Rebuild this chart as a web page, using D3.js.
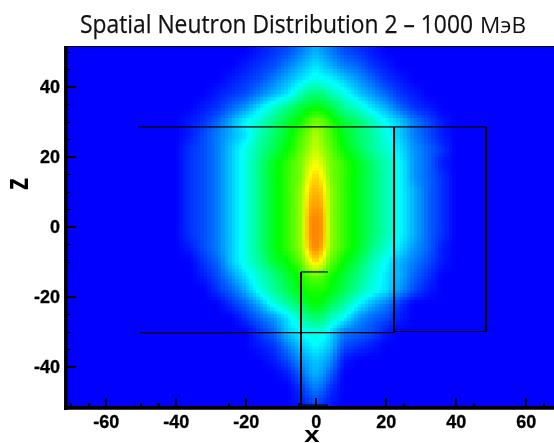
<!DOCTYPE html>
<html>
<head>
<meta charset="utf-8">
<script src="https://cdn.jsdelivr.net/npm/d3@7"></script>
<style>
    html, body { margin: 0; padding: 0; background: white; overflow: hidden; }
    #chart { position: relative; width: 554px; height: 443px; }
    #chart canvas, #chart svg { position: absolute; left: 0; top: 0; }
    .axis text { font-family: "Liberation Sans", Arial, sans-serif; font-weight: bold; font-size: 18px; fill: black; stroke: black; stroke-width: 0.3px; }
    .axis line { shape-rendering: crispEdges; }
</style>
</head>
<body>
<div id="chart"></div>
<script>
// grid, in tenths of a colour step (10 cyan, 20 green, 30 yellow)
const xCols = [-40, -36, -32, -28, -24, -20, -16, -12, -8, -4, -2, 0, 2, 4, 8, 12, 16, 20, 24, 28, 32, 36, 40];
const zRows = [50, 46, 42, 38, 34, 30, 26, 22, 18, 14, 10, 6, 2, -2, -6, -10, -14, -18, -22, -26, -30, -34, -38, -42, -46, -50];
const flux = [
    [0, 0, 0, 0, 0, 0, 1, 2, 3, 5, 6, 7, 6, 5, 3, 2, 1, 0, 0, 0, 0, 0, 0],
    [0, 0, 0, 0, 0, 1, 2, 3, 5, 7, 8, 9, 8, 7, 5, 4, 2, 1, 0, 0, 0, 0, 0],
    [0, 0, 0, 0, 1, 2, 3, 5, 7, 9, 10, 11, 10, 10, 8, 6, 4, 2, 1, 0, 0, 0, 0],
    [0, 0, 0, 1, 2, 3, 5, 7, 9, 13, 15, 15, 15, 13, 11, 8, 6, 4, 2, 1, 0, 0, 0],
    [0, 0, 1, 2, 4, 6, 9, 12, 15, 18, 19, 20, 19, 18, 14, 12, 9, 7, 4, 2, 1, 0, 0],
    [0, 1, 2, 4, 7, 10, 12, 15, 18, 21, 23, 25, 24, 22, 18, 16, 13, 10, 8, 5, 3, 1, 0],
    [0, 1, 3, 5, 7, 9, 13, 16, 19, 23, 25, 27, 25, 23, 19, 16, 14, 11, 8, 5, 3, 1, 0],
    [0, 2, 3, 5, 8, 11, 14, 17, 20, 24, 26, 28, 26, 24, 20, 17, 14, 12, 9, 6, 4, 2, 0],
    [0, 2, 3, 5, 8, 11, 15, 19, 22, 25, 28, 30, 28, 25, 22, 19, 16, 13, 10, 6, 4, 1, 0],
    [0, 2, 3, 5, 8, 11, 15, 19, 22, 25, 30, 32, 30, 25, 22, 19, 16, 13, 10, 6, 4, 2, 0],
    [0, 2, 3, 5, 8, 11, 15, 19, 22, 26, 32, 33, 32, 26, 22, 19, 16, 13, 10, 7, 4, 2, 0],
    [0, 2, 3, 5, 8, 11, 15, 19, 22, 26, 33, 34, 33, 26, 22, 19, 16, 13, 10, 7, 4, 2, 0],
    [0, 2, 3, 5, 8, 11, 15, 19, 22, 26, 34, 35, 34, 26, 22, 19, 16, 13, 10, 7, 4, 2, 0],
    [0, 2, 3, 5, 8, 11, 15, 19, 22, 26, 34, 35, 34, 26, 22, 19, 16, 13, 10, 7, 4, 2, 0],
    [0, 1, 3, 5, 8, 11, 15, 19, 22, 26, 33, 35, 33, 26, 22, 19, 15, 12, 9, 6, 4, 1, 0],
    [0, 0, 2, 4, 8, 11, 14, 18, 20, 24, 29, 32, 29, 24, 20, 17, 13, 10, 7, 5, 3, 1, 0],
    [0, 0, 1, 3, 6, 9, 12, 15, 18, 21, 23, 24, 23, 21, 18, 15, 12, 9, 7, 4, 2, 0, 0],
    [0, 0, 0, 2, 4, 7, 11, 14, 17, 20, 21, 21, 21, 20, 17, 14, 11, 9, 6, 3, 1, 0, 0],
    [0, 0, 0, 0, 2, 4, 7, 11, 14, 17, 19, 20, 19, 17, 14, 10, 7, 5, 2, 0, 0, 0, 0],
    [0, 0, 0, 0, 0, 2, 4, 6, 9, 13, 15, 16, 15, 13, 10, 6, 4, 3, 1, 0, 0, 0, 0],
    [0, 0, 0, 0, 0, 0, 2, 4, 8, 10, 11, 11, 11, 9, 5, 4, 3, 1, 0, 0, 0, 0, 0],
    [0, 0, 0, 0, 0, 0, 1, 2, 5, 8, 9, 10, 9, 8, 3, 2, 1, 0, 0, 0, 0, 0, 0],
    [0, 0, 0, 0, 0, 0, 0, 1, 3, 6, 7, 8, 7, 6, 1, 0, 0, 0, 0, 0, 0, 0, 0],
    [0, 0, 0, 0, 0, 0, 0, 0, 1, 4, 6, 7, 6, 4, 0, 0, 0, 0, 0, 0, 0, 0, 0],
    [0, 0, 0, 0, 0, 0, 0, 0, 0, 2, 4, 5, 4, 2, 0, 0, 0, 0, 0, 0, 0, 0, 0],
    [0, 0, 0, 0, 0, 0, 0, 0, 0, 1, 2, 3, 2, 1, 0, 0, 0, 0, 0, 0, 0, 0, 0]
];
const colourStops = [0, 10, 20, 30, 40];
const colourNames = ["#0000ff", "#00ffff", "#00ff00", "#ffff00", "#ff0000"];

const xMajor = [-60, -40, -20, 0, 20, 40, 60];
const xMinor = [-70, -65, -50, -45, -25, -5, 25, 45, 65];
const zMajor = [-40, -20, 0, 20, 40];
const zMinor = [50, 45, 35, 30, 25, 15, 10, 5, -5, -10, -25, -30, -35];

// the black outlines drawn over the field
const outerBox = [[-50.8, 28.5], [48.7, 28.5], [48.7, -29.9], [22.4, -29.9]];
const middleBox = [[22.4, 28.5], [22.4, -30.2], [-50.3, -30.2]];
const innerBox = [[3.5, -12.9], [-4.2, -12.9], [-4.2, -50.9], [3.5, -50.9]];

const width = 554, height = 443;
const plotLeft = 66, plotRight = 554, plotTop = 46, plotBottom = 407.5;

const x = d3.scaleLinear().domain([-71.34, 68.09]).range([plotLeft, plotRight]);
const y = d3.scaleLinear().domain([51.6, -51.6]).range([plotTop, plotBottom]);
const colour = d3.scaleLinear().domain(colourStops).range(colourNames).clamp(true);

const container = d3.select("#chart");

const canvas = container.append("canvas").attr("width", width).attr("height", height);
const ctx = canvas.node().getContext("2d");

const colIndex = d3.scaleLinear().domain(xCols).range(d3.range(xCols.length)).clamp(true);
const rowIndex = d3.scaleLinear().domain(zRows).range(d3.range(zRows.length)).clamp(true);

function fluxAt(xv, zv) {
    const ci = colIndex(xv), ri = rowIndex(zv);
    const c0 = Math.min(Math.floor(ci), xCols.length - 2), r0 = Math.min(Math.floor(ri), zRows.length - 2);
    const cf = ci - c0, rf = ri - r0;
    const a = flux[r0][c0] * (1 - cf) + flux[r0][c0 + 1] * cf;
    const b = flux[r0 + 1][c0] * (1 - cf) + flux[r0 + 1][c0 + 1] * cf;
    return a * (1 - rf) + b * rf;
}

// one unit wide blocks, like the original raster
for (let xv = -72; xv < 69; xv++) {
    for (let zv = -52; zv < 52; zv++) {
        const px0 = Math.round(x(xv)), px1 = Math.round(x(xv + 1));
        const py0 = Math.round(y(zv + 1)), py1 = Math.round(y(zv));
        ctx.fillStyle = colour(fluxAt(xv + 0.5, zv + 0.5));
        ctx.fillRect(px0, py0, px1 - px0, py1 - py0);
    }
}
// nothing above or left of the plot frame
ctx.clearRect(0, 0, width, plotTop);
ctx.clearRect(0, 0, plotLeft, height);
ctx.clearRect(0, plotBottom, width, height - plotBottom);

const svg = container.append("svg").attr("width", width).attr("height", height);

const line = d3.line().x(d => x(d[0])).y(d => y(d[1]));

// horizontal runs are thin, vertical runs are thick in the original
function drawOutline(points) {
    d3.pairs(points).forEach(([a, b]) => {
        svg.append("path")
            .attr("d", line([a, b]))
            .attr("fill", "none")
            .attr("stroke", "black")
            .attr("stroke-width", a[0] === b[0] ? 2 : 1.2);
    });
}
[outerBox, middleBox, innerBox].forEach(drawOutline);

// top frame line
svg.append("line")
    .attr("x1", plotLeft).attr("x2", plotRight)
    .attr("y1", plotTop + 0.5).attr("y2", plotTop + 0.5)
    .attr("stroke", "black").attr("stroke-width", 1);

const xAxisMinor = d3.axisBottom(x).tickValues(xMinor).tickSize(-5).tickFormat("");
const xAxisMajor = d3.axisBottom(x).tickValues(xMajor).tickSize(-10).tickPadding(8).tickFormat(d => d);
const yAxisMinor = d3.axisLeft(y).tickValues(zMinor).tickSize(-5).tickFormat("");
const yAxisMajor = d3.axisLeft(y).tickValues(zMajor).tickSize(-10).tickPadding(6).tickFormat(d => d);

function styleAxis(g, tickWidth) {
    g.attr("class", "axis");
    g.select(".domain").remove();
    g.selectAll(".tick line").attr("stroke", "black").attr("stroke-width", tickWidth);
}

svg.append("g").attr("transform", `translate(0,${plotBottom})`).call(xAxisMinor).call(g => styleAxis(g, 2));
svg.append("g").attr("transform", `translate(0,${plotBottom})`).call(xAxisMajor).call(g => styleAxis(g, 2));
svg.append("g").attr("transform", `translate(${plotLeft},0)`).call(yAxisMinor).call(g => styleAxis(g, 1));
svg.append("g").attr("transform", `translate(${plotLeft},0)`).call(yAxisMajor).call(g => styleAxis(g, 2));

// heavy left and bottom spines
svg.append("line").attr("x1", plotLeft - 0.2).attr("x2", plotLeft - 0.2).attr("y1", plotTop).attr("y2", plotBottom + 2.5)
    .attr("stroke", "black").attr("stroke-width", 3.5);
svg.append("line").attr("x1", plotLeft - 2).attr("x2", plotRight).attr("y1", plotBottom + 0.4).attr("y2", plotBottom + 0.4)
    .attr("stroke", "black").attr("stroke-width", 3.8);

// axis titles, stretched like the original
svg.append("text")
    .attr("transform", "translate(312,442) scale(1.15,0.95)")
    .attr("text-anchor", "middle")
    .style("font", "bold 24px 'Liberation Sans', Arial, sans-serif")
    .text("x");
svg.append("text")
    .attr("transform", "translate(28,184) rotate(-90) scale(1.05,1.4)")
    .attr("text-anchor", "middle")
    .style("font", "bold 24px 'Liberation Sans', Arial, sans-serif")
    .text("z");

// title, main part squeezed to the original width
svg.append("text")
    .attr("x", 80).attr("y", 33)
    .attr("textLength", 393)
    .attr("lengthAdjust", "spacingAndGlyphs")
    .style("font-family", "'Open Sans', 'Noto Sans', sans-serif")
    .style("font-size", "26px")
    .attr("fill", "#111")
    .attr("stroke", "#111")
    .attr("stroke-width", 0.25)
    .text("Spatial Neutron Distribution 2 – 1000");
svg.append("text")
    .attr("x", 480).attr("y", 33)
    .attr("textLength", 46)
    .attr("lengthAdjust", "spacingAndGlyphs")
    .style("font-family", "'Open Sans', 'Noto Sans', sans-serif")
    .style("font-size", "21px")
    .attr("fill", "#111")
    .text("МэВ");
</script>
</body>
</html>
